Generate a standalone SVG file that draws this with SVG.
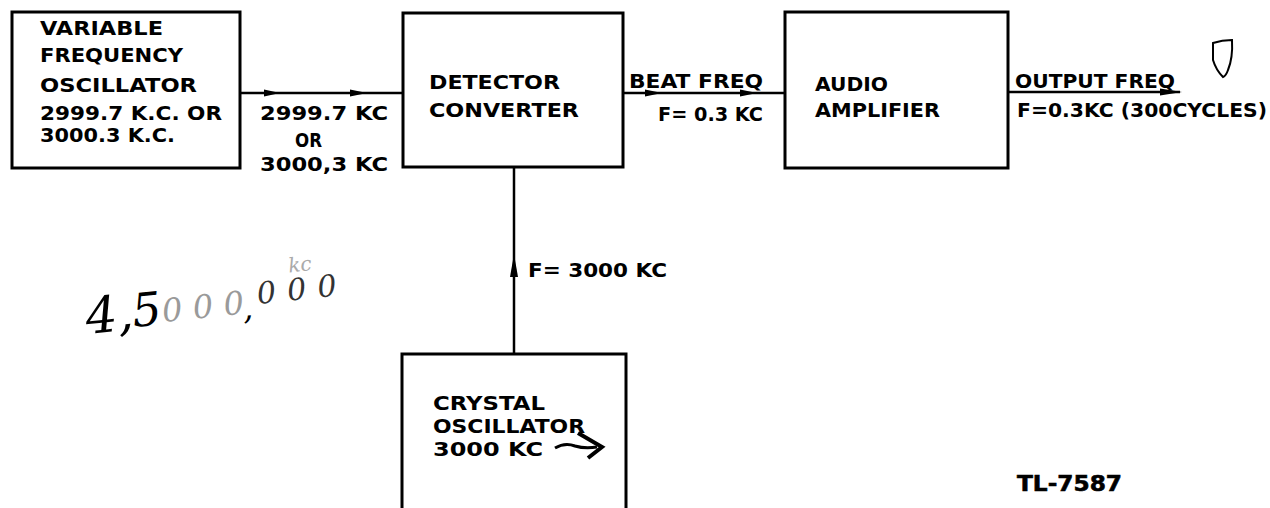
<svg xmlns="http://www.w3.org/2000/svg" width="1270" height="508" viewBox="0 0 1270 508">
<style>
.box{fill:none;stroke:#000;stroke-width:3}
.ln{fill:none;stroke:#000;stroke-width:2.5}
.t{font-family:"DejaVu Sans","Liberation Sans",Arial,sans-serif;font-weight:bold;font-size:20px;fill:#000}
.hand{font-family:"DejaVu Serif","Liberation Serif",serif;font-style:italic}
.ah{fill:#000}
</style>
<rect width="1270" height="508" fill="#fff"/>

<g id="vfo">
<rect class="box" x="12" y="12" width="228" height="156"/>
<text class="t" x="40" y="35" textLength="123" lengthAdjust="spacingAndGlyphs">VARIABLE</text>
<text class="t" x="40" y="62" textLength="143" lengthAdjust="spacingAndGlyphs">FREQUENCY</text>
<text class="t" x="40" y="92" textLength="157" lengthAdjust="spacingAndGlyphs">OSCILLATOR</text>
<text class="t" x="40" y="120" textLength="182" lengthAdjust="spacingAndGlyphs">2999.7 K.C.  OR</text>
<text class="t" x="40" y="142" textLength="135" lengthAdjust="spacingAndGlyphs">3000.3 K.C.</text>
</g>

<g id="detector">
<rect class="box" x="403" y="13" width="220" height="154"/>
<text class="t" x="429" y="89" textLength="131" lengthAdjust="spacingAndGlyphs">DETECTOR</text>
<text class="t" x="429" y="117" textLength="150" lengthAdjust="spacingAndGlyphs">CONVERTER</text>
</g>

<g id="audio">
<rect class="box" x="785" y="12" width="223" height="156"/>
<text class="t" x="815" y="91" textLength="73" lengthAdjust="spacingAndGlyphs">AUDIO</text>
<text class="t" x="815" y="117" textLength="125" lengthAdjust="spacingAndGlyphs">AMPLIFIER</text>
</g>

<g id="crystal">
<rect class="box" x="402" y="354" width="224" height="160"/>
<text class="t" x="433" y="410" textLength="112" lengthAdjust="spacingAndGlyphs">CRYSTAL</text>
<text class="t" x="433" y="433" textLength="152" lengthAdjust="spacingAndGlyphs">OSCILLATOR</text>
<text class="t" x="433" y="456" textLength="110" lengthAdjust="spacingAndGlyphs">3000 KC</text>
<path d="M555 448 Q565 442 575 446 Q585 449 597 447" fill="none" stroke="#000" stroke-width="3"/>
<path d="M578 433 L602 447 L588 458" fill="none" stroke="#000" stroke-width="4" stroke-linejoin="miter"/>
</g>

<g id="connectors">
<line class="ln" x1="240" y1="93" x2="403" y2="93"/>
<polygon class="ah" points="264,89.5 280,93 264,96.5"/>
<polygon class="ah" points="350,89.5 367,93 350,96.5"/>
<line class="ln" x1="623" y1="93" x2="785" y2="93"/>
<polygon class="ah" points="645,89.5 662,93 645,96.5"/>
<polygon class="ah" points="740,89.5 757,93 740,96.5"/>
<line class="ln" x1="1008" y1="92" x2="1180" y2="92"/>
<polygon class="ah" points="1160,88.5 1182,92 1160,95.5"/>
<line class="ln" x1="514" y1="167" x2="514" y2="354"/>
<polygon class="ah" points="510,277 514,254 518,277"/>
</g>

<g id="labels">
<text class="t" x="260" y="120" textLength="128" lengthAdjust="spacingAndGlyphs">2999.7 KC</text>
<text class="t" x="295" y="147" textLength="27" lengthAdjust="spacingAndGlyphs">OR</text>
<text class="t" x="260" y="171" textLength="128" lengthAdjust="spacingAndGlyphs">3000,3 KC</text>
<text class="t" x="629" y="88" textLength="134" lengthAdjust="spacingAndGlyphs">BEAT  FREQ</text>
<text class="t" x="658" y="121" textLength="105" lengthAdjust="spacingAndGlyphs">F= 0.3 KC</text>
<text class="t" x="1015" y="88" textLength="160" lengthAdjust="spacingAndGlyphs">OUTPUT FREQ</text>
<text class="t" x="1017" y="117" textLength="250" lengthAdjust="spacingAndGlyphs">F=0.3KC (300CYCLES)</text>
<text class="t" x="528" y="277" textLength="139" lengthAdjust="spacingAndGlyphs">F= 3000 KC</text>
<text class="t" x="1017" y="491" style="font-size:21px" textLength="105" lengthAdjust="spacingAndGlyphs" stroke="#000" stroke-width="0.6">TL-7587</text>
</g>

<g id="notes">
<path d="M1213 43 Q1222 40 1232 40 Q1233 58 1228 70 Q1226 76 1223 77 Q1216 70 1213 60 Z" fill="none" stroke="#000" stroke-width="2"/>
<g transform="rotate(-6 200 307)">
<text class="hand" x="85" y="322" font-size="50" fill="#000">4,</text>
<text class="hand" x="132" y="320" font-size="46" fill="#000">5</text>
<text class="hand" x="162" y="318" font-size="32" fill="#9a9a9a" textLength="82" lengthAdjust="spacing">000</text>
<text class="hand" x="242" y="324" font-size="32" fill="#000">,</text>
<text class="hand" x="258" y="310" font-size="30" fill="#333" textLength="80" lengthAdjust="spacing">000</text>
<text class="hand" x="292" y="282" font-size="20" fill="#aaa">kc</text>
</g>
</g>
</svg>
